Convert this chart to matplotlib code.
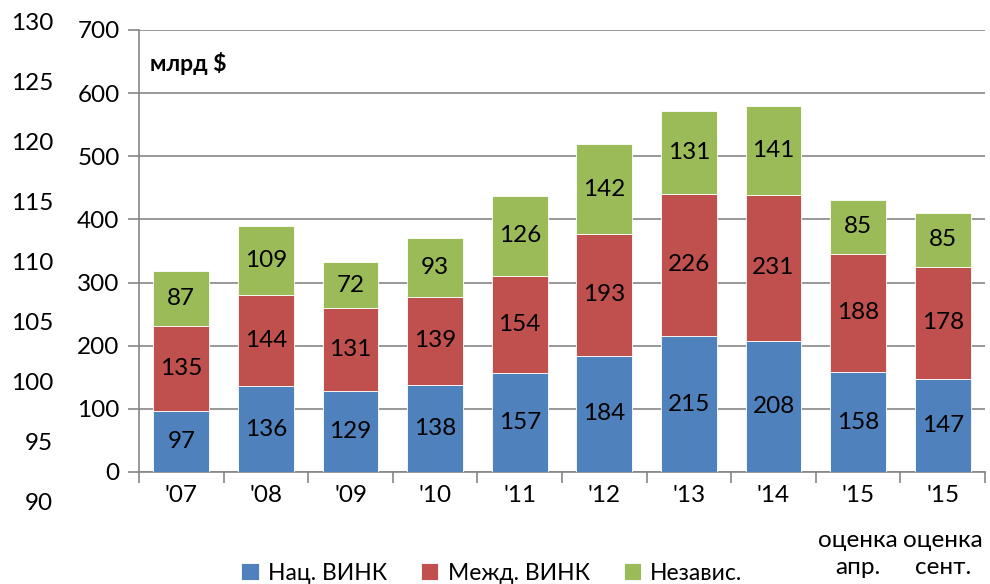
import matplotlib
matplotlib.use("Agg")
import matplotlib.pyplot as plt
import numpy as np

plt.rcParams['font.family'] = ['Lato', 'DejaVu Sans']

# Data
years = ["'07", "'08", "'09", "'10", "'11", "'12", "'13", "'14", "'15", "'15"]
extra = ["", "", "", "", "", "", "", "", "оценка\nапр.", "оценка\nсент."]
nat = [97, 136, 129, 138, 157, 184, 215, 208, 158, 147]
intl = [135, 144, 131, 139, 154, 193, 226, 231, 188, 178]
indep = [87, 109, 72, 93, 126, 142, 131, 141, 85, 85]
series_names = ["Нац. ВИНК", "Межд. ВИНК", "Независ."]
outer_ticks = [90, 95, 100, 105, 110, 115, 120, 125, 130]

colors = ["#4F81BD", "#C0504D", "#9BBB59"]
W, H = 990, 584
fig = plt.figure(figsize=(W / 100, H / 100), dpi=100)

# main axes
ax = fig.add_axes([139 / W, 1 - 472 / H, (985 - 139) / W, 442 / H])
x = np.arange(len(years))
bottom = np.zeros(len(years))
for vals, c, name in zip([nat, intl, indep], colors, series_names):
    bars = ax.bar(x, vals, 0.66, bottom=bottom, color=c, edgecolor="white",
                  linewidth=0.6, label=name, zorder=3)
    ax.bar_label(bars, labels=[str(v) for v in vals], label_type="center",
                 fontsize=17.5, color="black")
    bottom += np.array(vals)

ax.set_xlim(-0.5, len(years) - 0.5)
ax.set_ylim(0, 700)
ax.set_yticks(range(0, 701, 100))
ax.grid(axis="y", color="#868686", linewidth=1.2, zorder=0)
ax.set_xticks(np.arange(-0.5, len(years), 1))
ax.set_xticklabels([])
ax.set_xticks(x, minor=True)
ax.set_xticklabels(years, minor=True)
ax.tick_params(axis="x", which="minor", length=0, labelsize=17.5, pad=9)
ax.tick_params(axis="x", which="major", length=8, color="#868686", width=1.2)
ax.tick_params(axis="y", length=8, color="#868686", width=1.2, labelsize=17.5, pad=6)
for s in ["top", "right"]:
    ax.spines[s].set_visible(False)
ax.spines["left"].set_color("#868686")
ax.spines["left"].set_linewidth(1.2)
ax.spines["bottom"].set_color("#868686")
ax.spines["bottom"].set_linewidth(1.2)

for i, t in enumerate(extra):
    if t:
        ax.annotate(t, xy=(i, 0), xycoords=("data", "data"), xytext=(0, -42),
                    textcoords="offset points", ha="center", va="top",
                    fontsize=17.5, linespacing=1.35, annotation_clip=False)

ax.text(0.013, 0.95, "млрд $", transform=ax.transAxes, fontsize=16.5,
        fontweight="bold", va="top", ha="left")

# outer (secondary) scale on the far left
ax2 = fig.add_axes([53 / W, 1 - 502 / H, 0.001, 480 / H])
ax2.set_ylim(90, 130)
ax2.set_yticks(outer_ticks)
ax2.set_xticks([])
ax2.tick_params(axis="y", length=0, labelsize=17.5, pad=0)
for s in ax2.spines.values():
    s.set_visible(False)
ax2.patch.set_visible(False)

handles, labels = ax.get_legend_handles_labels()
fig.legend(handles, labels, loc="lower center", bbox_to_anchor=(0.497, -0.035),
           ncol=3, frameon=False, fontsize=16.5, handlelength=0.75,
           handleheight=0.75, handletextpad=0.4, columnspacing=1.5)

fig.savefig("out.png", dpi=100)
